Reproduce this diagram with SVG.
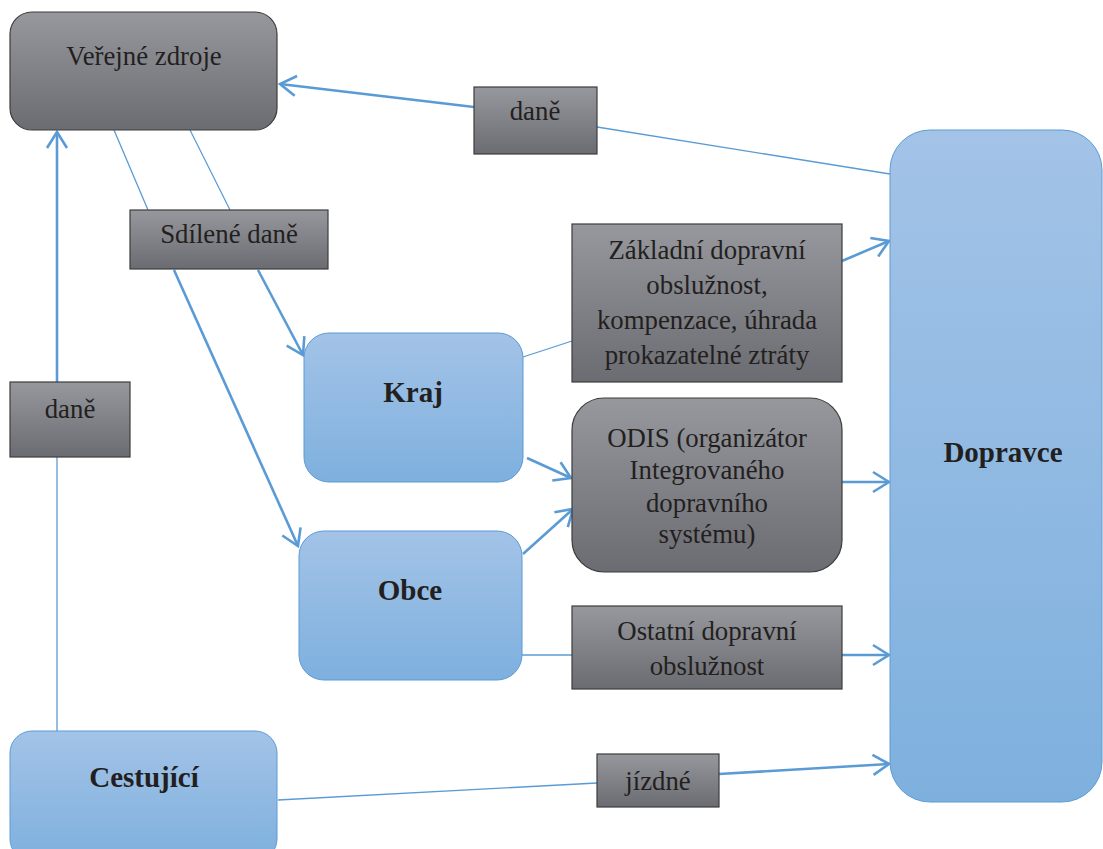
<svg xmlns="http://www.w3.org/2000/svg" width="1103" height="849" viewBox="0 0 1103 849">
<style>
.g{fill:url(#gg);stroke:#3c3c3c;stroke-width:1.2}
.b{fill:url(#bg);stroke:#5b9bd5;stroke-width:1}
.t{font-family:"Liberation Serif","Times New Roman",serif;font-size:26.8px;fill:#231f20;text-anchor:middle}
.tb{font-family:"Liberation Serif","Times New Roman",serif;font-size:29px;font-weight:bold;fill:#231f20;text-anchor:middle}
.thin{stroke:#5b9bd5;stroke-width:1.3;fill:none}
.thick{stroke:#5b9bd5;stroke-width:2.6;fill:none;marker-end:url(#ah)}
</style>
<defs>
<linearGradient id="gg" x1="0" y1="0" x2="0" y2="1"><stop offset="0" stop-color="#97989d"/><stop offset="1" stop-color="#6b6c71"/></linearGradient>
<linearGradient id="bg" x1="0" y1="0" x2="0" y2="1"><stop offset="0" stop-color="#a3c3e7"/><stop offset="1" stop-color="#7eb0de"/></linearGradient>
<marker id="ah" viewBox="0 0 20 24" refX="18" refY="12" markerWidth="20" markerHeight="24" markerUnits="userSpaceOnUse" orient="auto"><path d="M2,2 L18,12 L2,22" fill="none" stroke="#5b9bd5" stroke-width="2.6"/></marker>
</defs>
<g id="connectors">
<line class="thick" x1="474" y1="107" x2="280" y2="84"/>
<line class="thin" x1="597" y1="127" x2="890" y2="174"/>
<line class="thin" x1="114" y1="130" x2="148" y2="210"/>
<line class="thin" x1="190" y1="130" x2="230" y2="210"/>
<line class="thick" x1="258" y1="270" x2="303" y2="355"/>
<line class="thick" x1="174" y1="270" x2="298" y2="546"/>
<line class="thin" x1="57" y1="731" x2="57" y2="457"/>
<line class="thick" x1="57" y1="382" x2="57" y2="132"/>
<line class="thin" x1="523" y1="357" x2="572" y2="341"/>
<line class="thick" x1="842" y1="261" x2="889" y2="241"/>
<line class="thick" x1="527" y1="458" x2="571" y2="478"/>
<line class="thick" x1="523" y1="554" x2="573" y2="509"/>
<line class="thick" x1="842" y1="482" x2="889" y2="482"/>
<line class="thin" x1="522" y1="655" x2="572" y2="655"/>
<line class="thick" x1="842" y1="655" x2="889" y2="655"/>
<line class="thin" x1="278" y1="800" x2="597" y2="783"/>
<line class="thick" x1="719" y1="774" x2="889" y2="764"/>
</g>
<g id="verejne-zdroje"><rect class="g" x="10" y="12" width="267" height="118" rx="22"/><text class="t" x="144" y="65">Veřejné zdroje</text></g>
<g id="dane-top"><rect class="g" x="474" y="87" width="123" height="67"/><text class="t" x="535" y="120">daně</text></g>
<g id="sdilene-dane"><rect class="g" x="130" y="210" width="198" height="59"/><text class="t" x="229" y="243">Sdílené daně</text></g>
<g id="dane-left"><rect class="g" x="10" y="382" width="120" height="75"/><text class="t" x="70" y="418">daně</text></g>
<g id="kraj"><rect class="b" x="304" y="333" width="219" height="149" rx="25"/><text class="tb" x="413" y="402">Kraj</text></g>
<g id="obce"><rect class="b" x="299" y="531" width="223" height="149" rx="25"/><text class="tb" x="410" y="600">Obce</text></g>
<g id="cestujici"><rect class="b" x="10" y="731" width="267" height="130" rx="22"/><text class="tb" x="144" y="787">Cestující</text></g>
<g id="zakladni"><rect class="g" x="572" y="224" width="270" height="158"/><text class="t" x="707" y="259">Základní dopravní</text><text class="t" x="707" y="294">obslužnost,</text><text class="t" x="707" y="329">kompenzace, úhrada</text><text class="t" x="707" y="364">prokazatelné ztráty</text></g>
<g id="odis"><rect class="g" x="572" y="398" width="270" height="174" rx="32"/><text class="t" x="707" y="447">ODIS (organizátor</text><text class="t" x="707" y="479">Integrovaného</text><text class="t" x="707" y="512">dopravního</text><text class="t" x="707" y="543">systému)</text></g>
<g id="ostatni"><rect class="g" x="572" y="606" width="270" height="83"/><text class="t" x="707" y="640">Ostatní dopravní</text><text class="t" x="707" y="675">obslužnost</text></g>
<g id="jizdne"><rect class="g" x="597" y="754" width="122" height="53"/><text class="t" x="658" y="790">jízdné</text></g>
<g id="dopravce"><rect class="b" x="890" y="130" width="212" height="672" rx="40"/><text class="tb" x="1003" y="462">Dopravce</text></g>
</svg>
